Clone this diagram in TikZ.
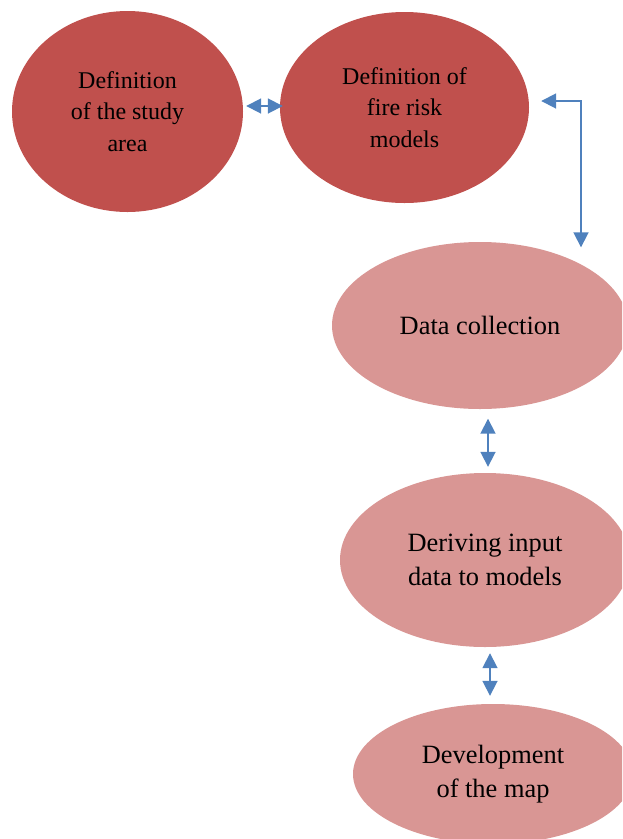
\documentclass[tikz,border=0pt]{standalone}
\usepackage{fontspec}
\setmainfont{Liberation Serif}
\usetikzlibrary{arrows.meta,shapes.geometric}

\definecolor{darkrose}{HTML}{C0504D}
\definecolor{lightrose}{HTML}{D99694}
\definecolor{linkblue}{HTML}{4F81BD}

\tikzset{
  stage/.style={ellipse,inner sep=0pt,align=center,text=black},
  firststage/.style={stage,fill=darkrose,font=\fontsize{24}{31.5}\selectfont},
  laterstage/.style={stage,fill=lightrose,font=\fontsize{26.4}{34.5}\selectfont},
  biarrow/.style={draw=linkblue,line width=1.8pt,
    {Triangle[length=15pt,width=15pt,fill=linkblue]}-{Triangle[length=15pt,width=15pt,fill=linkblue]}}
}

\begin{document}
\begin{tikzpicture}[x=1pt,y=-1pt]

      % page frame, pixel units
      \useasboundingbox (0,0) rectangle (622,839);
      \clip (0,0) rectangle (622,839);

      % the two first stages, side by side on top
      \node[firststage,minimum width=231pt,minimum height=201pt] (area) at (127.5,111.5)
        {Definition\\of the study\\area};
      \node[firststage,minimum width=249pt,minimum height=191pt] (risk) at (404.5,107.5)
        {Definition of\\fire risk\\models};

      % the later stages, one under the other on the right
      \node[laterstage,minimum width=296pt,minimum height=167pt] (data) at (480,325.5)
        {Data collection};
      \node[laterstage,minimum width=290pt,minimum height=174pt] (derive) at (485,560)
        {Deriving input\\data to models};
      \node[laterstage,minimum width=280pt,minimum height=140pt] (map) at (493,774)
        {Development\\of the map};

      % double arrows between the stages
      \draw[biarrow] ([xshift=3pt,yshift=5.5pt]area.east) -- ([xshift=3pt,yshift=1.5pt]risk.west);
      \draw[biarrow] ([xshift=12pt,yshift=6.5pt]risk.east) -| ([xshift=101pt,yshift=-5.5pt]data.north);
      \draw[biarrow] ([xshift=8pt,yshift=-9.5pt]data.south) -- ([xshift=3pt,yshift=6pt]derive.north);
      \draw[biarrow] ([xshift=5pt,yshift=-6pt]derive.south) -- ([xshift=-3pt,yshift=8pt]map.north);
    \end{tikzpicture}
\end{document}
